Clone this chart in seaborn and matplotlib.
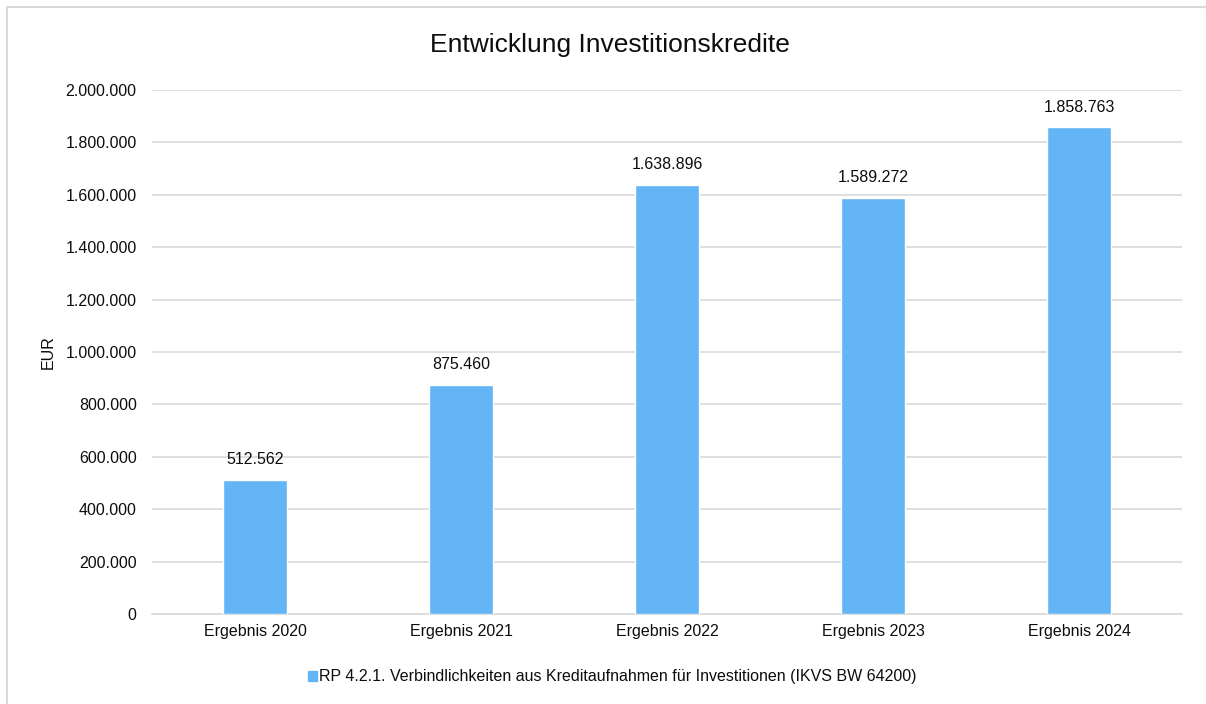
import matplotlib
matplotlib.use("Agg")
import matplotlib.pyplot as plt
import seaborn as sns
import pandas as pd
from matplotlib.patches import Rectangle
from matplotlib.lines import Line2D

categories = ["Ergebnis 2020", "Ergebnis 2021", "Ergebnis 2022", "Ergebnis 2023", "Ergebnis 2024"]
values = [512562, 875460, 1638896, 1589272, 1858763]
series_name = "RP 4.2.1. Verbindlichkeiten aus Kreditaufnahmen für Investitionen (IKVS BW 64200)"
yticks = [0, 200000, 400000, 600000, 800000, 1000000, 1200000, 1400000, 1600000, 1800000, 2000000]

def de_fmt(v):
    return f"{int(round(v)):,}".replace(",", ".")

sns.set_theme(style="white")
plt.rcParams['font.family'] = ['Liberation Sans', 'DejaVu Sans']

df = pd.DataFrame({"cat": categories, "val": values})
color = "#64B5F6"
fs = 11.5
tc = "#0D0D0D"

fig = plt.figure(figsize=(12.06, 7.04), dpi=100)
# outer chart border (only left and top visible in the reference)
fig.lines.append(Line2D([7/1206, 7/1206, 1], [0, 1 - 7/704, 1 - 7/704], transform=fig.transFigure,
                        color="#D9D9D9", linewidth=1.5))
ax = fig.add_axes([152/1206, 1 - 614/704, (1182 - 152)/1206, (614 - 90)/704])

sns.barplot(data=df, x="cat", y="val", color=color, width=0.31, ax=ax, zorder=3, saturation=1)

ax.set_ylim(0, 2000000)
ax.set_xlim(-0.5, len(categories) - 0.5)
ax.set_yticks(yticks)
ax.set_yticklabels([de_fmt(t) for t in yticks], fontsize=fs, color=tc)
ax.tick_params(axis="x", labelsize=fs, colors=tc, length=0, pad=7)
ax.tick_params(axis="y", length=0, pad=11)
ax.yaxis.grid(True, color="#D9D9D9", linewidth=1.2, zorder=0)
ax.set_axisbelow(True)
for s in ["top", "right", "left"]:
    ax.spines[s].set_visible(False)
ax.spines["bottom"].set_color("#D9D9D9")
ax.spines["bottom"].set_linewidth(1.2)
ax.set_xlabel("")
ax.set_ylabel("EUR", fontsize=fs, color=tc)
ax.yaxis.set_label_coords(-96/1030, 0.5)

for p, v in zip(ax.patches, values):
    ax.annotate(de_fmt(v), (p.get_x() + p.get_width() / 2, p.get_height()),
                xytext=(0, 9), textcoords="offset points", ha="center", va="bottom",
                fontsize=fs, color=tc)

fig.text(610/1206, 1 - 45/704, "Entwicklung Investitionskredite", ha="center", va="center",
         fontsize=19, color=tc)

handle = Rectangle((0, 0), 1, 1, color=color)
fig.legend([handle], [series_name], loc="center", bbox_to_anchor=(612/1206, 1 - 677/704),
           frameon=False, fontsize=fs, handlelength=0.6, handleheight=0.6, handletextpad=0.1,
           labelcolor=tc)

fig.savefig("out.png", dpi=100)
